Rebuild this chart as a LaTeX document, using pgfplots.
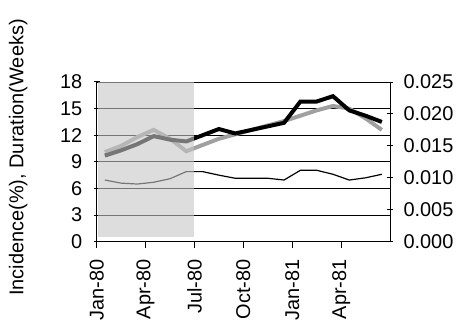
\documentclass[border=0pt]{standalone}
\usepackage{pgfplots}
\pgfplotsset{compat=1.18}
\usepackage{fontspec}
\setmainfont{Liberation Sans}
\begin{document}
\begin{tikzpicture}
\pgfplotsset{every axis/.append style={font=\fontsize{20}{23}\selectfont,
  /pgf/number format/assume math mode=true}}
\begin{axis}[
  at={(96.7bp,86.3bp)}, anchor=south west,
  scale only axis, width=293.3bp, height=159.7bp,
  xmin=0, xmax=18, ymin=0, ymax=18,
  axis x line*=bottom, axis y line*=left,
  axis line style={black, line width=1pt, -},
  xtick={0,3,6,9,12,15},
  xticklabels={Jan-80,Apr-80,Jul-80,Oct-80,Jan-81,Apr-81},
  x tick label style={yshift=-8bp, rotate=90, anchor=east},
  y tick label style={xshift=-8bp},
  ytick={0,3,6,9,12,15,18},
  ymajorgrids, grid style={black, line width=0.8pt},
  major tick length=6bp,
  xtick align=outside, ytick align=center,
  tick style={black, line width=1pt},
  ylabel={Incidence(\%), Duration(Weeks)},
  every axis y label/.style={at={(axis description cs:-0.268,0.527)}, rotate=90, anchor=center},
]
\addplot[black, line width=1.2pt] coordinates {
(0.5,6.95)(1.5,6.6)(2.5,6.5)(3.5,6.7)(4.5,7.1)(5.5,7.9)(6.5,7.9)(7.5,7.5)(8.5,7.15)
(9.5,7.15)(10.5,7.15)(11.5,6.95)(12.5,8.05)(13.5,8.05)(14.5,7.6)(15.5,6.95)(16.5,7.2)(17.5,7.6)};
\addplot[color={rgb,255:red,160;green,160;blue,160}, line width=4pt] coordinates {
(0.5,10.1)(1.5,10.8)(2.5,11.8)(3.5,12.6)(4.5,11.6)(5.5,10.2)(6.5,10.9)(7.5,11.6)(8.5,12.1)
(9.5,12.6)(10.5,13.1)(11.5,13.6)(12.5,14.2)(13.5,14.8)(14.5,15.3)(15.5,15.0)(16.5,13.9)(17.5,12.6)};
\addplot[black, line width=4pt] coordinates {
(0.5,9.7)(1.5,10.3)(2.5,11.0)(3.5,11.9)(4.5,11.5)(5.5,11.3)(6.5,12.0)(7.5,12.7)(8.5,12.2)
(9.5,12.6)(10.5,13.0)(11.5,13.4)(12.5,15.8)(13.5,15.8)(14.5,16.4)(15.5,14.8)(16.5,14.2)(17.5,13.5)};
\addplot[draw=none, fill=gray!45, fill opacity=0.6] coordinates {(0.1,0.5)(6,0.5)(6,18)(0.1,18)} -- cycle;
\end{axis}
\begin{axis}[
  at={(96.7bp,86.3bp)}, anchor=south west,
  scale only axis, width=293.3bp, height=159.7bp,
  xmin=0, xmax=18, ymin=0, ymax=0.025,
  axis y line*=right, axis x line=none,
  axis line style={black, line width=1pt, -},
  ytick={0,0.005,0.01,0.015,0.02,0.025},
  yticklabel style={xshift=7bp, /pgf/number format/.cd, fixed, fixed zerofill, precision=3},
  scaled y ticks=false,
  major tick length=6bp, ytick align=center,
  tick style={black, line width=1pt},
]
\end{axis}
\pgfresetboundingbox
\path[use as bounding box] (0,0) rectangle (458bp,328bp);
\end{tikzpicture}
\end{document}
